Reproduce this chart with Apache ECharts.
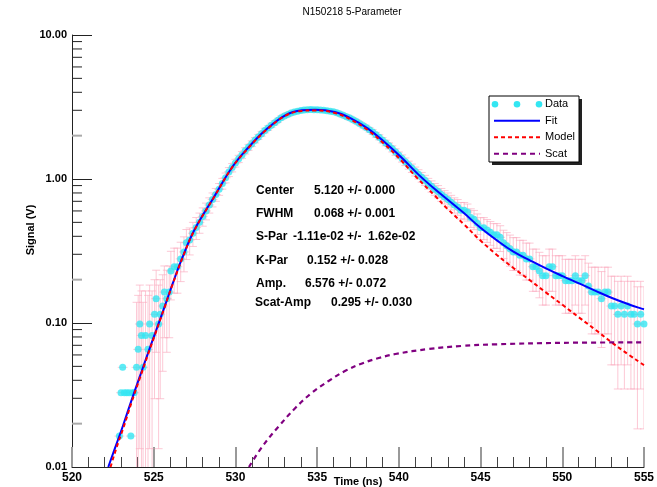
<!DOCTYPE html>
<html><head><meta charset="utf-8">
<script src="https://cdn.jsdelivr.net/npm/echarts@6/dist/echarts.min.js"></script>
<style>html,body{margin:0;padding:0;background:#fff}#c{width:657px;height:487px}</style>
</head><body><div id="c"></div>
<script>
const chartTitle = 'N150218 5-Parameter';
const xAxisTitle = 'Time (ns)';
const yAxisTitle = 'Signal (V)';
const xRange = [520, 555];
const xInterval = 5;
const yRange = [0.01, 10];
const yMinorMultipliers = [2, 3, 4, 5, 6, 7, 8, 9];
const TIME_ERR = 0.3;

// measured points: [time (ns), signal (V), error (V)]
const measured = [
[522.9,0.0164,0],[523.0,0.0328,0],[523.1,0.0492,0],[523.2,0.0328,0],[523.35,0.0328,0],[523.5,0.0328,0],[523.6,0.0164,0],[523.7,0.0328,0],[523.8,0.0328,0],
[523.95,0.0492,0.09],[524.05,0.0656,0.09],[524.15,0.0984,0.085],[524.25,0.082,0.085],[524.35,0.0492,0.09],[524.5,0.082,0.085],[524.65,0.0656,0.09],[524.75,0.0984,0.085],[524.9,0.082,0.085],
[525.05,0.1148,0.085],[525.15,0.1476,0.085],[525.3,0.0984,0.085],[525.4,0.1148,0.085],[525.55,0.1312,0.085],[525.65,0.164,0.085],[525.8,0.1476,0.085],[525.95,0.164,0.085],
[526.05,0.2296,0.085],[526.25,0.246,0.085],[526.45,0.246,0.085],[526.65,0.2788,0.085],[526.85,0.3116,0.085],[527.0,0.3608,0.085],[527.2,0.377,0.08],
[527.4,0.42,0.08],[527.6,0.46,0.08],[527.8,0.50,0.08],[528.0,0.55,0.08],[528.2,0.60,0.08],[528.4,0.66,0.08],[528.6,0.72,0.08],[528.8,0.78,0.08],
[529.0,0.85,0.08],[529.2,0.93,0.08],[529.4,1.02,0.08],[529.6,1.12,0.08],[529.8,1.20,0.08],[530.0,1.29,0.08],[530.2,1.38,0.08],[530.4,1.47,0.08],[530.6,1.57,0.08],[530.8,1.66,0.08],
[531.0,1.76,0.08],[531.2,1.86,0.08],[531.4,1.96,0.08],[531.6,2.06,0.08],[531.8,2.17,0.08],[532.0,2.26,0.08],[532.2,2.36,0.08],[532.4,2.46,0.08],[532.6,2.56,0.08],[532.8,2.66,0.08],
[533.0,2.74,0.08],[533.2,2.81,0.08],[533.4,2.87,0.08],[533.6,2.92,0.08],[533.8,2.96,0.08],[534.0,2.99,0.08],[534.2,3.01,0.08],[534.4,3.03,0.08],[534.6,3.04,0.08],[534.8,3.03,0.08],
[535.0,3.03,0.08],[535.2,3.01,0.08],[535.4,3.00,0.08],[535.6,2.98,0.08],[535.8,2.96,0.08],[536.0,2.93,0.08],[536.2,2.89,0.08],[536.4,2.83,0.08],[536.6,2.77,0.08],[536.8,2.71,0.08],
[537.0,2.65,0.08],[537.2,2.58,0.08],[537.4,2.51,0.08],[537.6,2.43,0.08],[537.8,2.35,0.08],[538.0,2.28,0.08],[538.2,2.20,0.08],[538.4,2.12,0.08],[538.6,2.03,0.08],[538.8,1.95,0.08],
[539.0,1.86,0.08],[539.2,1.78,0.08],[539.4,1.70,0.08],[539.6,1.62,0.08],[539.8,1.54,0.08],[540.0,1.46,0.08],[540.2,1.39,0.08],[540.4,1.32,0.08],[540.6,1.25,0.08],[540.8,1.19,0.08],
[541.0,1.13,0.08],[541.2,1.08,0.08],[541.4,1.03,0.08],[541.6,0.98,0.08],[541.8,0.93,0.08],[542.0,0.89,0.08],[542.2,0.85,0.08],[542.4,0.82,0.08],[542.6,0.78,0.08],[542.8,0.75,0.08],
[543.0,0.72,0.08],[543.2,0.69,0.08],[543.4,0.66,0.08],[543.6,0.64,0.08],[543.8,0.6068,0.08],[544.0,0.6068,0.08],[544.2,0.59,0.08],[544.4,0.541,0.08],[544.6,0.5248,0.08],[544.8,0.492,0.08],
[545.0,0.4592,0.08],[545.2,0.4592,0.08],[545.4,0.4428,0.08],[545.6,0.4264,0.08],[545.8,0.41,0.08],[546.0,0.41,0.08],[546.2,0.3936,0.08],[546.4,0.3608,0.08],[546.6,0.3444,0.08],[546.8,0.328,0.08],
[547.0,0.3116,0.08],[547.2,0.3116,0.08],[547.4,0.2952,0.08],[547.6,0.2952,0.08],[547.8,0.2788,0.08],[548.0,0.2788,0.08],[548.2,0.246,0.08],[548.4,0.246,0.08],[548.6,0.2296,0.08],[548.8,0.2132,0.08],
[549.0,0.2132,0.08],[549.2,0.246,0.08],[549.4,0.246,0.08],[549.6,0.2132,0.08],[549.8,0.2132,0.08],[550.0,0.2132,0.08],[550.2,0.1968,0.08],[550.4,0.1968,0.08],[550.6,0.1968,0.08],[550.8,0.2132,0.08],
[551.0,0.1968,0.08],[551.2,0.1968,0.08],[551.4,0.2132,0.08],[551.6,0.1804,0.08],[551.8,0.164,0.08],[552.0,0.164,0.08],[552.2,0.164,0.08],[552.4,0.1476,0.08],[552.6,0.164,0.08],[552.8,0.164,0.08],
[553.0,0.1312,0.08],[553.2,0.1312,0.08],[553.4,0.1148,0.08],[553.6,0.1312,0.08],[553.8,0.1148,0.08],[554.0,0.1312,0.08],[554.2,0.1148,0.08],[554.4,0.1148,0.08],[554.6,0.0984,0.08],[554.8,0.1148,0.08],
[555.0,0.0984,0.08]
];

const fitCurve = [
[522.22,0.0100],[522.73,0.01454],[523.13,0.01949],[523.64,0.02905],[524.14,0.0422],[524.64,0.0613],[525.15,0.0890],[525.66,0.1292],[526.16,0.1878],[526.77,0.2873],
[527.48,0.4403],[528.69,0.750],[529.81,1.211],[530.82,1.668],[531.83,2.179],[533.05,2.769],[534.06,3.00],[534.87,3.03],[536.08,2.92],[537.09,2.627],
[538.11,2.239],[539.12,1.807],[540.13,1.421],[541.14,1.090],[542.16,0.858],[543.16,0.692],[543.98,0.580],[544.98,0.460],[546.00,0.375],[547.01,0.313],
[548.02,0.2725],[549.03,0.2385],[550.05,0.2110],[551.06,0.1878],[552.07,0.1665],[553.08,0.1485],[554.09,0.1345],[554.85,0.1259],[555.0,0.1245]
];

const modelCurve = [
[522.36,0.0100],[522.73,0.0137],[523.13,0.0185],[523.64,0.0280],[524.14,0.0410],[524.64,0.0600],[525.15,0.0875],[525.66,0.128],[526.16,0.186],[526.77,0.285],
[527.48,0.438],[528.69,0.748],[529.81,1.208],[530.82,1.655],[531.83,2.160],[533.05,2.745],[534.06,2.97],[534.87,2.995],[536.08,2.875],[537.09,2.575],
[538.11,2.18],[539.12,1.745],[540.13,1.352],[541.14,1.010],[542.16,0.775],[542.96,0.623],[543.98,0.485],[544.98,0.375],[546.00,0.297],[547.01,0.241],
[548.02,0.198],[549.03,0.162],[550.05,0.1327],[551.06,0.1085],[552.07,0.0890],[553.08,0.0725],[554.09,0.0600],[554.85,0.0523],[555.0,0.0510]
];

const scatCurve = [
[530.83,0.0100],[531.65,0.0139],[532.66,0.0192],[533.68,0.0258],[534.70,0.0329],[535.72,0.0397],[536.73,0.0466],[537.75,0.0524],
[538.77,0.0571],[539.79,0.0609],[541.83,0.0660],[543.87,0.0693],[545.91,0.0711],[549.98,0.0728],[555.0,0.0734]
];

const legendNames = ['Data', 'Fit', 'Model', 'Scat'];
const paramNames = ['Center', 'FWHM', 'S-Par', 'K-Par', 'Amp.', 'Scat-Amp'];
const paramValues = ['5.120 +/- 0.000', '0.068 +/- 0.001', '-1.11e-02 +/-  1.62e-02', '0.152 +/- 0.028', '6.576 +/- 0.072', '0.295 +/- 0.030'];

// layout (pixels)
const paramNameX = [256, 256, 256, 256, 256, 255];
const paramValueX = [314, 314, 293, 307, 305, 331];
const paramY = [191, 214, 237, 261, 284, 303];

const FONT = '"Liberation Sans", Arial, Helvetica, sans-serif';
const COL_DATA = '#33e6f2';
const COL_FIT = '#0000ff';
const COL_MODEL = '#ff0000';
const COL_SCAT = '#800080';
const COL_ERR = 'rgba(250,170,190,0.65)';

// minor tick values for the log axis
const yMinorTicks = [];
for (let k = Math.round(Math.log10(yRange[0])); k < Math.round(Math.log10(yRange[1])); k++) {
  yMinorMultipliers.forEach(m => yMinorTicks.push([xRange[0], m * Math.pow(10, k)]));
}

const chart = echarts.init(document.getElementById('c'), null, {renderer: 'canvas'});

const graphics = [];
graphics.push({type: 'text', x: 352, y: 12, style: {text: chartTitle, font: '10px ' + FONT, fill: '#000', align: 'center', verticalAlign: 'middle'}});
graphics.push({type: 'text', x: 31, y: 230, rotation: Math.PI / 2, style: {text: yAxisTitle, font: 'bold 11px ' + FONT, fill: '#000', align: 'center', verticalAlign: 'middle'}});
graphics.push({type: 'text', x: 358, y: 482, style: {text: xAxisTitle, font: 'bold 11px ' + FONT, fill: '#000', align: 'center', verticalAlign: 'middle'}});

// legend box
const LB = {x: 489, y: 96, w: 90, h: 66};
graphics.push({type: 'rect', shape: {x: LB.x + 3, y: LB.y + 3, width: LB.w, height: LB.h}, style: {fill: '#222'}, z: 10});
graphics.push({type: 'rect', shape: {x: LB.x, y: LB.y, width: LB.w, height: LB.h}, style: {fill: '#fff', stroke: '#000', lineWidth: 1}, z: 11});
const rowH = LB.h / legendNames.length;
legendNames.forEach((name, i) => {
  const cy = LB.y + rowH * (i + 0.5);
  const x0 = LB.x + 5, x1 = LB.x + 51;
  if (i === 0) {
    [x0 + 1, (x0 + x1) / 2, x1 - 1].forEach(cx => graphics.push({type: 'circle', shape: {cx: cx, cy: cy, r: 3.3}, style: {fill: COL_DATA}, z: 12}));
  } else {
    const col = [null, COL_FIT, COL_MODEL, COL_SCAT][i];
    const dash = [null, null, [4, 3], [5, 4]][i];
    graphics.push({type: 'line', shape: {x1: x0, y1: cy, x2: x1, y2: cy}, style: {stroke: col, lineWidth: 2, lineDash: dash}, z: 12});
  }
  graphics.push({type: 'text', x: LB.x + 56, y: cy, style: {text: name, font: '11px ' + FONT, fill: '#000', align: 'left', verticalAlign: 'middle'}, z: 12});
});

paramNames.forEach((n, i) => {
  graphics.push({type: 'text', x: paramNameX[i], y: paramY[i], style: {text: n, font: 'bold 12px ' + FONT, fill: '#000', align: 'left', verticalAlign: 'middle'}, z: 12});
  graphics.push({type: 'text', x: paramValueX[i], y: paramY[i], style: {text: paramValues[i], font: 'bold 12px ' + FONT, fill: '#000', align: 'left', verticalAlign: 'middle'}, z: 12});
});

const option = {
  animation: false,
  backgroundColor: '#fff',
  grid: {left: 72, right: 9, top: 35, bottom: 20},
  xAxis: {
    type: 'value', min: xRange[0], max: xRange[1], interval: xInterval,
    axisLine: {lineStyle: {color: '#222', width: 1}},
    axisTick: {inside: true, length: 20, lineStyle: {color: '#999', width: 2}},
    minorTick: {show: true, splitNumber: 5, length: 10, lineStyle: {color: '#444', width: 1}},
    splitLine: {show: false},
    axisLabel: {margin: 5, fontFamily: FONT, fontWeight: 'bold', fontSize: 12, color: '#000'}
  },
  yAxis: {
    type: 'log', logBase: 10, min: yRange[0], max: yRange[1],
    axisLine: {show: true, lineStyle: {color: '#222', width: 1}},
    axisTick: {show: true, inside: true, length: 20, lineStyle: {color: '#222', width: 1}},
    splitLine: {show: false},
    axisLabel: {margin: 5, fontFamily: FONT, fontWeight: 'bold', fontSize: 11, color: '#000', formatter: v => Number(v).toFixed(2)}
  },
  graphic: graphics,
  series: [
    {
      type: 'custom', name: 'yMinorTicks', data: yMinorTicks, clip: false, silent: true, z: 1,
      renderItem: (params, api) => {
        const p = api.coord([api.value(0), api.value(1)]);
        const v = api.value(1);
        const lead = Math.round(v / Math.pow(10, Math.floor(Math.log10(v) + 1e-9)));
        return {type: 'line', shape: {x1: p[0], y1: p[1], x2: p[0] + 10, y2: p[1]},
          style: {stroke: lead === 2 ? '#aaa' : '#222', lineWidth: lead === 2 ? 2 : 1}};
      }
    },
    {
      type: 'custom', name: 'errors', data: measured, clip: true, silent: true, z: 2,
      encode: {x: 0, y: 1},
      renderItem: (params, api) => {
        const t = api.value(0), v = api.value(1), e = api.value(2);
        const st = {stroke: COL_ERR, lineWidth: 1};
        const children = [];
        const pL = api.coord([t - TIME_ERR, v]);
        const pR = api.coord([t + TIME_ERR, v]);
        children.push({type: 'line', shape: {x1: pL[0], y1: pL[1], x2: pR[0], y2: pR[1]}, style: st});
        if (e > 0) {
          const lo = Math.max(v - e, 0.001);
          const pT = api.coord([t, v + e]);
          const pB = api.coord([t, lo]);
          const cap = 4;
          children.push({type: 'line', shape: {x1: pT[0], y1: pT[1], x2: pB[0], y2: pB[1]}, style: st});
          children.push({type: 'line', shape: {x1: pT[0] - cap, y1: pT[1], x2: pT[0] + cap, y2: pT[1]}, style: st});
          children.push({type: 'line', shape: {x1: pB[0] - cap, y1: pB[1], x2: pB[0] + cap, y2: pB[1]}, style: st});
        }
        return {type: 'group', children: children};
      }
    },
    {
      type: 'scatter', name: 'Data', data: measured.map(d => [d[0], d[1]]), symbol: 'circle', symbolSize: 7,
      itemStyle: {color: COL_DATA}, z: 3, silent: true
    },
    {
      type: 'line', name: 'Fit', data: fitCurve, smooth: 0.4, showSymbol: false, symbol: 'none', z: 4,
      lineStyle: {color: COL_FIT, width: 2}
    },
    {
      type: 'line', name: 'Model', data: modelCurve, smooth: 0.4, showSymbol: false, symbol: 'none', z: 5,
      lineStyle: {color: COL_MODEL, width: 2, type: [4, 3]}
    },
    {
      type: 'line', name: 'Scat', data: scatCurve, smooth: 0.4, showSymbol: false, symbol: 'none', z: 5,
      lineStyle: {color: COL_SCAT, width: 2.2, type: [5, 4]}
    }
  ]
};
chart.setOption(option);
</script>
</body></html>
